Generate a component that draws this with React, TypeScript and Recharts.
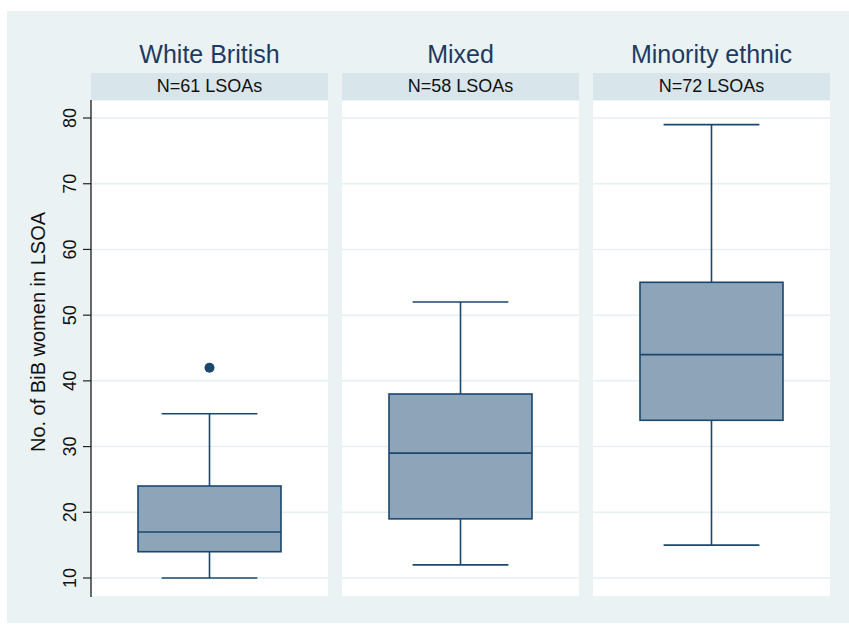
import React from 'react';
import { ComposedChart, Bar, Scatter, XAxis, YAxis, CartesianGrid } from 'recharts';

const categories = ['White British', 'Mixed', 'Minority ethnic'];
const counts = [61, 58, 72];
const mins = [10, 12, 15];
const q1s = [14, 19, 34];
const medians = [17, 29, 44];
const q3s = [24, 38, 55];
const maxs = [35, 52, 79];
const outliers = [42, null, null];
const yTicks = [10, 20, 30, 40, 50, 60, 70, 80];
const yDomain = [7.11, 82.74];

const FONT = '"Liberation Sans", Arial, Helvetica, sans-serif';
const NAVY = '#1a476f';
const BOXFILL = '#8da4b9';
const PANEL_LEFTS = [91, 342, 593];
const PANEL_W = 237;
const PLOT_TOP = 100;
const PLOT_H = 497;
const AXIS_W = 91;

const BoxShape = (props: any) => {
  const { x, y, width, height, payload } = props;
  const k = height / (payload.q3 - payload.q1);
  const yOf = (v: number) => y + (payload.q3 - v) * k;
  const cx = x + width / 2;
  const capW = width * 0.67;
  return (
    <g>
      <line x1={cx} x2={cx} y1={yOf(payload.q3)} y2={yOf(payload.max)} stroke={NAVY} strokeWidth={1.6} />
      <line x1={cx} x2={cx} y1={yOf(payload.q1)} y2={yOf(payload.min)} stroke={NAVY} strokeWidth={1.6} />
      <line x1={cx - capW / 2} x2={cx + capW / 2} y1={yOf(payload.max)} y2={yOf(payload.max)} stroke={NAVY} strokeWidth={1.6} />
      <line x1={cx - capW / 2} x2={cx + capW / 2} y1={yOf(payload.min)} y2={yOf(payload.min)} stroke={NAVY} strokeWidth={1.6} />
      <rect x={x} y={y} width={width} height={height} fill={BOXFILL} stroke={NAVY} strokeWidth={1.6} />
      <line x1={x} x2={x + width} y1={yOf(payload.median)} y2={yOf(payload.median)} stroke={NAVY} strokeWidth={1.6} />
    </g>
  );
};

const YTick = (props: any) => {
  const { y, payload } = props;
  const cx = 70;
  return (
    <text
      x={cx}
      y={y}
      transform={`rotate(-90, ${cx}, ${y})`}
      textAnchor="middle"
      dominantBaseline="central"
      fontSize={18}
      fontFamily={FONT}
      fill="#111"
    >
      {payload.value}
    </text>
  );
};

const OutlierDot = (props: any) => {
  const { cx, cy } = props;
  if (cx == null || cy == null || isNaN(cy)) return null;
  return <circle cx={cx} cy={cy} r={5} fill={NAVY} />;
};

function Panel({ i }: { i: number }) {
  const first = i === 0;
  const data = [
    {
      name: categories[i],
      box: [q1s[i], q3s[i]],
      q1: q1s[i],
      q3: q3s[i],
      min: mins[i],
      max: maxs[i],
      median: medians[i],
      outlier: outliers[i],
    },
  ];
  const left = first ? 0 : PANEL_LEFTS[i];
  const width = first ? AXIS_W + PANEL_W : PANEL_W;
  return (
    <div style={{ position: 'absolute', left, top: PLOT_TOP, width, height: PLOT_H }}>
      <ComposedChart width={width} height={PLOT_H} data={data} margin={{ top: 0, right: 0, bottom: 0, left: 0 }}>
        <CartesianGrid vertical={false} stroke="#e6eff1" strokeWidth={1.5} fill="#ffffff" />
        <XAxis
          dataKey="name"
          type="category"
          height={0}
          tick={false}
          tickLine={false}
          axisLine={{ stroke: '#5f5f5f', strokeWidth: 1.6 }}
        />
        <YAxis
          type="number"
          domain={yDomain}
          ticks={yTicks}
          allowDataOverflow
          width={first ? AXIS_W : 0}
          hide={!first}
          tick={<YTick />}
          tickSize={8}
          tickLine={{ stroke: '#222', strokeWidth: 1.2 }}
          axisLine={{ stroke: '#444', strokeWidth: 1.6 }}
        />
        <Bar dataKey="box" barSize={143} shape={<BoxShape />} isAnimationActive={false} />
        {outliers[i] != null && (
          <Scatter dataKey="outlier" shape={<OutlierDot />} isAnimationActive={false} />
        )}
      </ComposedChart>
    </div>
  );
}

export default function App() {
  return (
    <div style={{ position: 'absolute', left: 0, top: 0, width: 849, height: 625, background: '#fff', fontFamily: FONT, overflow: 'hidden' }}>
      <div style={{ position: 'absolute', left: 7, top: 11, width: 842, height: 612, background: '#eaf2f3' }} />
      {categories.map((c, i) => (
        <React.Fragment key={c}>
          <div
            style={{
              position: 'absolute',
              left: PANEL_LEFTS[i],
              top: 36,
              width: PANEL_W,
              height: 36,
              lineHeight: '36px',
              textAlign: 'center',
              fontSize: 25,
              color: '#1f3a62',
              whiteSpace: 'nowrap',
            }}
          >
            {c}
          </div>
          <div
            style={{
              position: 'absolute',
              left: PANEL_LEFTS[i],
              top: 73,
              width: PANEL_W,
              height: 27,
              lineHeight: '27px',
              textAlign: 'center',
              fontSize: 18,
              color: '#111',
              background: '#d8e5eb',
              whiteSpace: 'nowrap',
            }}
          >
            {`N=${counts[i]} LSOAs`}
          </div>
        </React.Fragment>
      ))}
      {categories.map((c, i) => (
        <Panel key={'p' + c} i={i} />
      ))}
      <div
        style={{
          position: 'absolute',
          left: 38 - 150,
          top: 332 - 12,
          width: 300,
          height: 24,
          lineHeight: '24px',
          textAlign: 'center',
          fontSize: 20,
          color: '#111',
          transform: 'rotate(-90deg)',
          whiteSpace: 'nowrap',
        }}
      >
        No. of BiB women in LSOA
      </div>
    </div>
  );
}
